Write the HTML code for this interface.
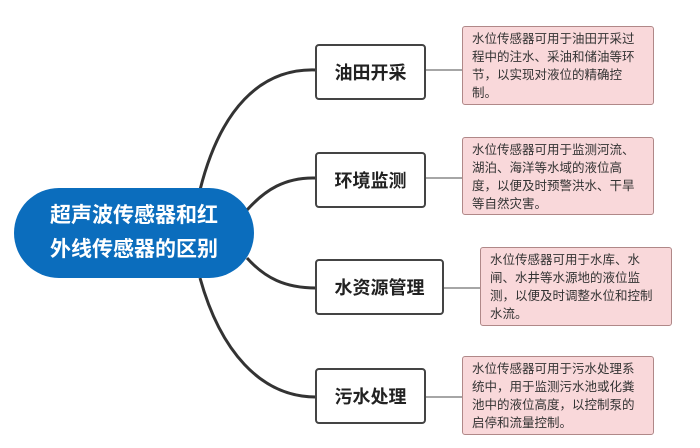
<!DOCTYPE html>
<html><head><meta charset="utf-8"><style>
body{margin:0;width:700px;height:448px;background:#fff;position:relative;overflow:hidden;font-family:"Liberation Sans","Noto Sans CJK SC",sans-serif}
.c{position:absolute;left:14px;top:188px;width:240px;height:90px;border-radius:45px;background:#0b6dbd;color:#fff;font-weight:bold;font-size:21px;line-height:34px;text-align:center;display:flex;align-items:center;justify-content:center}
.b{position:absolute;left:315px;width:111px;height:56px;border:2px solid #444;border-radius:4px;box-sizing:border-box;background:#fff;font-weight:bold;font-size:18px;display:flex;align-items:center;justify-content:center;color:#222}
.d{position:absolute;width:192px;background:#f9d8da;border:1px solid #b08888;border-radius:3px;box-sizing:border-box;padding:3px 8px 0 9px;font-size:12.5px;line-height:18px;color:#333}
svg{position:absolute;left:0;top:0}
</style></head><body>
<svg width="700" height="448">
<g fill="none" stroke="#333" stroke-width="3">
<path d="M200 190 C220 110,260 68,316 70"/>
<path d="M247 210 C265 190,285 177,316 178"/>
<path d="M247 258 C265 278,285 288,316 288"/>
<path d="M200 278 C220 350,260 397,316 397"/>
</g>
<g stroke="#888" stroke-width="1.5">
<line x1="426" y1="70" x2="462" y2="70"/>
<line x1="426" y1="178" x2="462" y2="178"/>
<line x1="444" y1="288" x2="480" y2="288"/>
<line x1="426" y1="397" x2="462" y2="397"/>
</g>
</svg>
<div class="c">超声波传感器和红<br>外线传感器的区别</div>
<div class="b" style="top:44px">油田开采</div>
<div class="b" style="top:152px">环境监测</div>
<div class="b" style="top:259px;width:129px">水资源管理</div>
<div class="b" style="top:368px">污水处理</div>
<div class="d" style="left:462px;top:26px;height:79px">水位传感器可用于油田开采过程中的注水、采油和储油等环节，以实现对液位的精确控制。</div>
<div class="d" style="left:462px;top:137px;height:78px">水位传感器可用于监测河流、湖泊、海洋等水域的液位高度，以便及时预警洪水、干旱等自然灾害。</div>
<div class="d" style="left:480px;top:247px;height:79px">水位传感器可用于水库、水闸、水井等水源地的液位监测，以便及时调整水位和控制水流。</div>
<div class="d" style="left:462px;top:356px;height:79px">水位传感器可用于污水处理系统中，用于监测污水池或化粪池中的液位高度，以控制泵的启停和流量控制。</div>
</body></html>
